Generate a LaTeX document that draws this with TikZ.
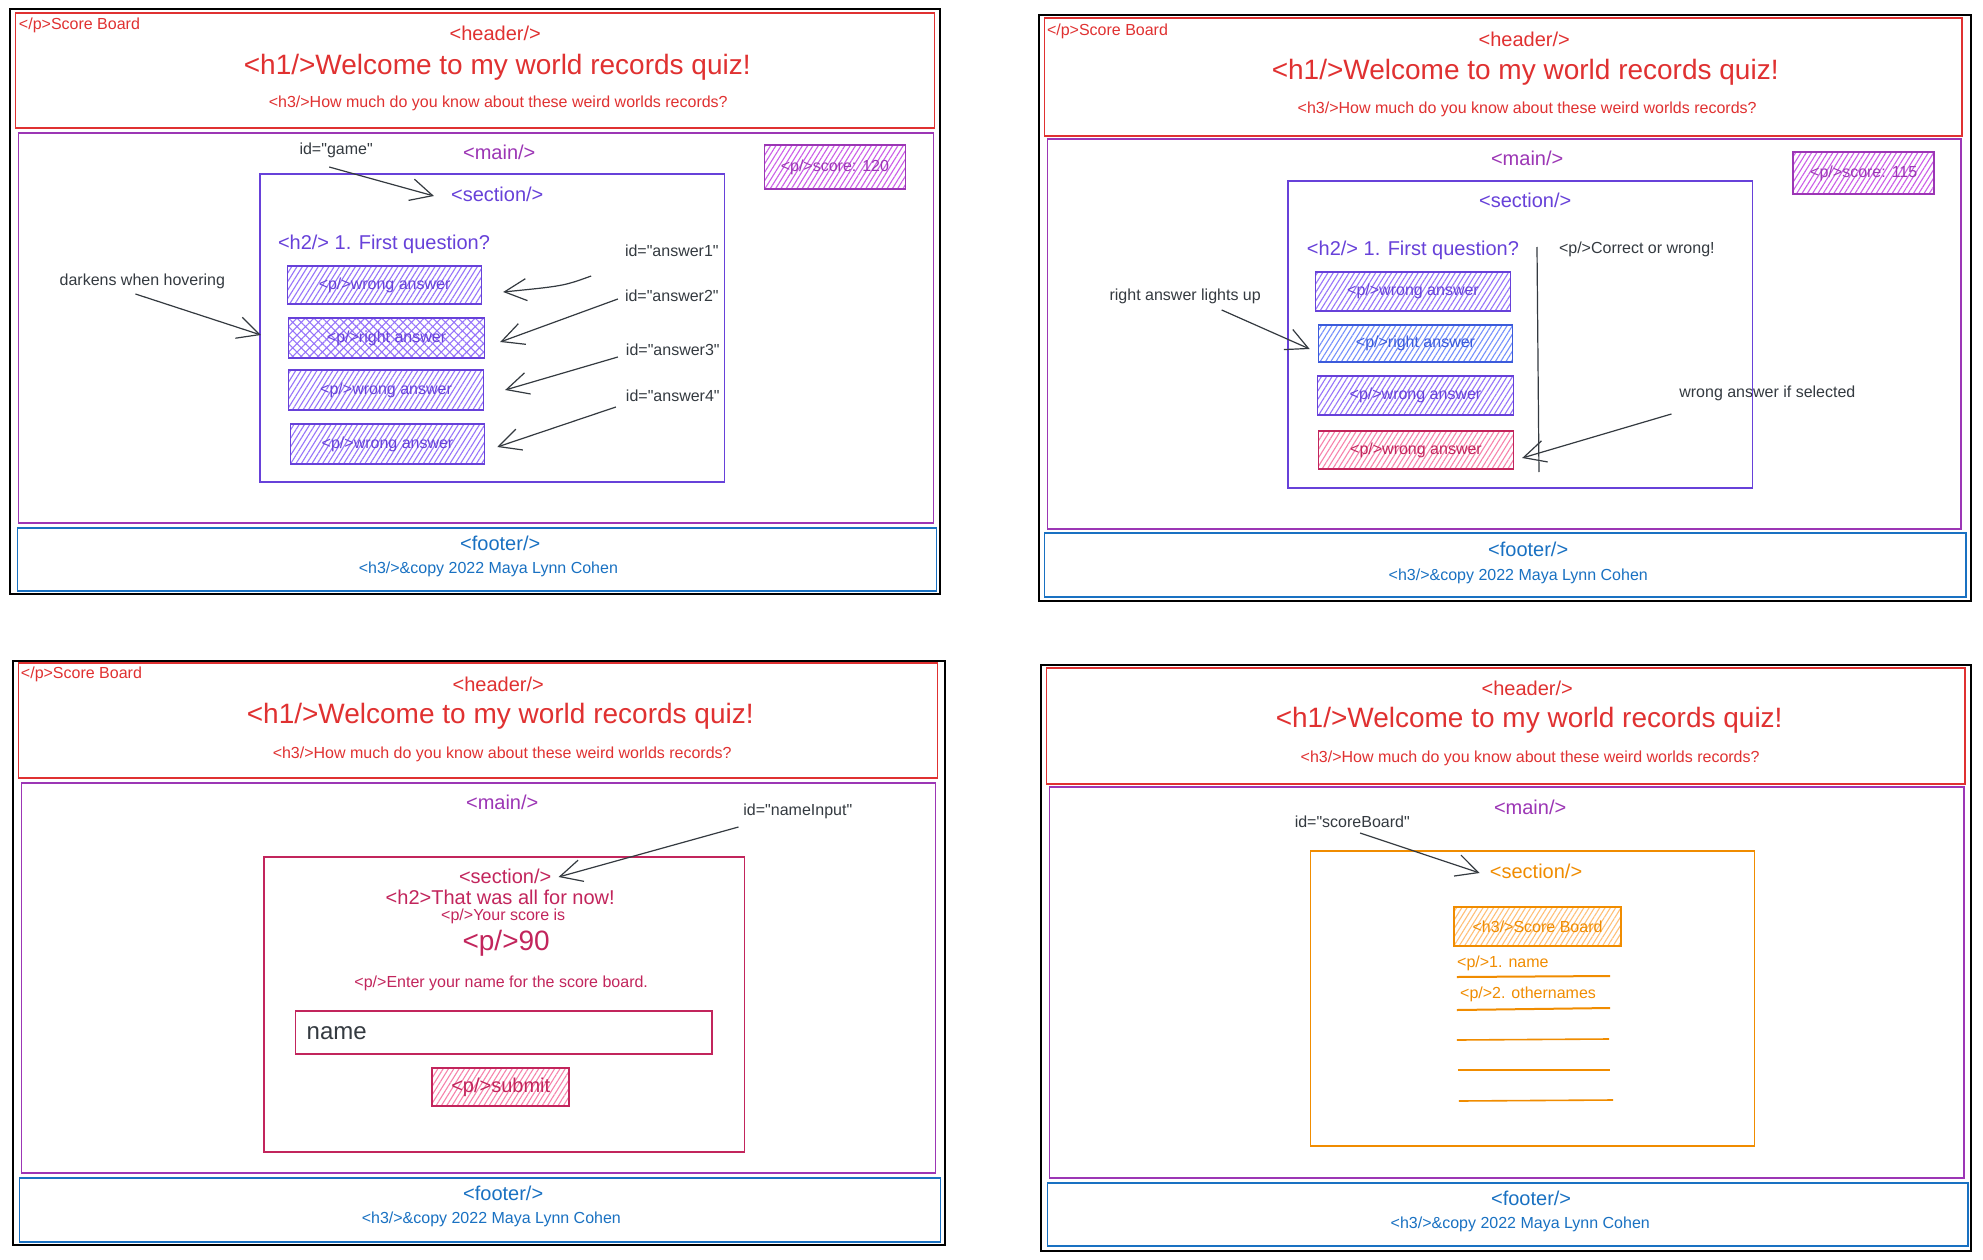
\documentclass[tikz,border=0pt]{standalone}
\usepackage{fontspec}
\setmainfont{Liberation Sans}[Ligatures=TeXOff]
\usetikzlibrary{arrows.meta,patterns.meta}
\definecolor{cred}{HTML}{E03131}
\definecolor{cgrape}{HTML}{9C36B5}
\definecolor{cgrapel}{HTML}{CC5DE8}
\definecolor{cviolet}{HTML}{6741D9}
\definecolor{cvioletl}{HTML}{9775FA}
\definecolor{cblue}{HTML}{1971C2}
\definecolor{cindigo}{HTML}{3B5BDB}
\definecolor{cindigol}{HTML}{748FFC}
\definecolor{cpink}{HTML}{C2255C}
\definecolor{cpinkl}{HTML}{F783AC}
\definecolor{corange}{HTML}{F08C00}
\definecolor{corangel}{HTML}{FFC078}
\definecolor{cgray}{HTML}{343A40}
\tikzset{
  pframe/.style={draw=black, line width=1.6pt},
  phead/.style={draw=cred, line width=1.3pt},
  pmain/.style={draw=cgrape, line width=1.3pt},
  pfoot/.style={draw=cblue, line width=1.3pt},
  f16/.style={inner sep=0pt, font=\fontsize{16pt}{19pt}\selectfont},
  f20/.style={inner sep=0pt, font=\fontsize{20pt}{24pt}\selectfont},
  f24/.style={inner sep=0pt, font=\fontsize{24pt}{28pt}\selectfont},
  f28/.style={inner sep=0pt, font=\fontsize{28pt}{33pt}\selectfont},
  hatchbox/.style n args={4}{draw=#1, line width=1.6pt, text=#1,
     pattern={Lines[angle=58,distance=4.5pt,line width=1.1pt]}, pattern color=#2,
     minimum width=#3, minimum height=#4, inner sep=0pt,
     font=\fontsize{16pt}{19pt}\selectfont},
  conn/.style={draw=cgray, line width=1.2pt,
     -{Straight Barb[length=22pt,width=22pt,line width=1.2pt]}},
}
\begin{document}
\begin{tikzpicture}[x=1pt,y=-1pt]
\useasboundingbox (0,0) rectangle (1983,1260);
\fill[white] (0,0) rectangle (1983,1260);

%================ PANEL 1 =================
\begin{scope}[xscale=0.9886]
\draw[pframe] (10,9) rectangle (951,594);
\draw[phead] (16,13) rectangle (945,128);
\draw[pmain] (19,133) rectangle (944,523);
\draw[pfoot] (18,528) rectangle (947,591);
\node[f16,text=cred,anchor=west] (p1sb) at (19,25) {</p>Score Board};
\node[f20,text=cred] (p1hd) at (501,33) {<header/>};
\node[f28,text=cred] (p1h1) at (503,67) {<h1/>Welcome to my world records quiz!};
\node[f16,text=cred] (p1h3) at (504,103) {<h3/>How much do you know about these weird worlds records?};
\node[f20,text=cgrape] (p1mn) at (505,152) {<main/>};
\node[f16,text=cgray] (p1game) at (340,150) {id="game"};
\node[hatchbox={cgrape}{cgrapel}{141pt}{44pt}] (p1score) at (844.5,167) {<p/>score: 120};
\draw[draw=cviolet, line width=1.3pt] (263,174) rectangle (733,482);
\node[f20,text=cviolet] (p1sec) at (503,194) {<section/>};
\node[f20,text=cviolet,anchor=west] (p1h2) at (281,244) {<h2/> 1. First question?};
\node[hatchbox={cviolet}{cvioletl}{194pt}{38pt}] (p1b1) at (389,285) {<p/>wrong answer};
\node[draw=cviolet, line width=1.6pt, minimum width=196pt, minimum height=40pt, inner sep=0pt,
      pattern={Hatch[angle=45,distance=6pt,line width=1.1pt]}, pattern color=cvioletl] (p1b2) at (391,338) {};
\node[f16,text=cviolet] (p1b2t) at (p1b2.center) {<p/>right answer};
\node[hatchbox={cviolet}{cvioletl}{195pt}{40pt}] (p1b3) at (390.5,390) {<p/>wrong answer};
\node[hatchbox={cviolet}{cvioletl}{194pt}{40pt}] (p1b4) at (392,444) {<p/>wrong answer};
\node[f16,text=cgray,anchor=west] (p1l1) at (632,251) {id="answer1"};
\node[f16,text=cgray,anchor=west] (p1l2) at (632,296) {id="answer2"};
\node[f16,text=cgray,anchor=west] (p1l3) at (633,350) {id="answer3"};
\node[f16,text=cgray,anchor=west] (p1l4) at (633,396) {id="answer4"};
\node[f16,text=cgray] (p1hov) at (144,281) {darkens when hovering};
\coordinate (p1gs) at (333,167); \coordinate (p1ge) at (439,196);
\coordinate (p1a1s) at (598,276); \coordinate (p1a1e) at (509,292);
\coordinate (p1a2s) at (625,299); \coordinate (p1a2e) at (506,342);
\coordinate (p1a3s) at (625,357); \coordinate (p1a3e) at (511,390);
\coordinate (p1a4s) at (623,407); \coordinate (p1a4e) at (503,447);
\coordinate (p1hs) at (137,294); \coordinate (p1he) at (264,335);
\draw[conn] (p1gs) -- (p1ge);
\draw[conn] (p1a1s) .. controls (570,286) .. (p1a1e);
\draw[conn] (p1a2s) -- (p1a2e);
\draw[conn] (p1a3s) -- (p1a3e);
\draw[conn] (p1a4s) -- (p1a4e);
\draw[conn] (p1hs) -- (p1he);
\node[f20,text=cblue] (p1ft) at (506,543) {<footer/>};
\node[f16,text=cblue] (p1cp) at (494,569) {<h3/>\&copy 2022 Maya Lynn Cohen};
\end{scope}

%================ PANEL 2 =================
\begin{scope}[xshift=11.95pt, xscale=0.9884]
\draw[pframe] (1039,15) rectangle (1982,601);
\draw[phead] (1045,18) rectangle (1973,136);
\draw[pmain] (1048,139) rectangle (1972,529);
\draw[pfoot] (1045,533) rectangle (1977,597);
\node[f16,text=cred,anchor=west] (p2sb) at (1047,31) {</p>Score Board};
\node[f20,text=cred] (p2hd) at (1530,39) {<header/>};
\node[f28,text=cred] (p2h1) at (1531,72) {<h1/>Welcome to my world records quiz!};
\node[f16,text=cred] (p2h3) at (1533,109) {<h3/>How much do you know about these weird worlds records?};
\node[f20,text=cgrape] (p2mn) at (1533,158) {<main/>};
\node[hatchbox={cgrape}{cgrapel}{141pt}{42pt}] (p2score) at (1873.5,173) {<p/>score: 115};
\draw[draw=cviolet, line width=1.3pt] (1291,181) rectangle (1761,488);
\node[f20,text=cviolet] (p2sec) at (1531,200) {<section/>};
\node[f20,text=cviolet,anchor=west] (p2h2) at (1310,250) {<h2/> 1. First question?};
\coordinate (p2vt) at (1543,247); \coordinate (p2vb) at (1545,472);
\draw[cgray, line width=1.2pt] (p2vt) -- (p2vb);
\node[f16,text=cgray,anchor=west] (p2cw) at (1565,249) {<p/>Correct or wrong!};
\node[hatchbox={cviolet}{cvioletl}{195pt}{39pt}] (p2b1) at (1417.5,291.5) {<p/>wrong answer};
\node[hatchbox={cindigo}{cindigol}{194pt}{37pt}] (p2b2) at (1420,343.5) {<p/>right answer};
\node[hatchbox={cviolet}{cvioletl}{196pt}{39pt}] (p2b3) at (1420,395.5) {<p/>wrong answer};
\node[hatchbox={cpink}{cpinkl}{195pt}{38pt}] (p2b4) at (1420.5,450) {<p/>wrong answer};
\node[f16,text=cgray] (p2rl) at (1187,296) {right answer lights up};
\node[f16,text=cgray] (p2wl) at (1776,393) {wrong answer if selected};
\coordinate (p2rs) at (1224,310); \coordinate (p2re) at (1313,349);
\coordinate (p2ws) at (1679,414); \coordinate (p2we) at (1528,458);
\draw[conn] (p2rs) -- (p2re);
\draw[conn] (p2ws) -- (p2we);
\node[f20,text=cblue] (p2ft) at (1534,549) {<footer/>};
\node[f16,text=cblue] (p2cp) at (1524,576) {<h3/>\&copy 2022 Maya Lynn Cohen};
\end{scope}

%================ PANEL 3 =================
\begin{scope}[xscale=0.9886]
\draw[pframe] (13,661) rectangle (956,1245);
\draw[phead] (19,663) rectangle (948,778);
\draw[pmain] (22,783) rectangle (946,1173);
\draw[pfoot] (20,1178) rectangle (951,1242);
\node[f16,text=cred,anchor=west] (p3sb) at (21,674) {</p>Score Board};
\node[f20,text=cred] (p3hd) at (504,684) {<header/>};
\node[f28,text=cred] (p3h1) at (506,716) {<h1/>Welcome to my world records quiz!};
\node[f16,text=cred] (p3h3) at (508,754) {<h3/>How much do you know about these weird worlds records?};
\node[f20,text=cgrape] (p3mn) at (508,802) {<main/>};
\node[f16,text=cgray] (p3id) at (807,811) {id="nameInput"};
\draw[draw=cpink, line width=1.3pt] (267,857) rectangle (753,1152);
\node[f20,text=cpink] (p3sec) at (511,876) {<section/>};
\coordinate (p3as) at (747,827); \coordinate (p3ae) at (565,877);
\draw[conn] (p3as) -- (p3ae);
\node[f20,text=cpink] (p3h2) at (506,897) {<h2>That was all for now!};
\node[f16,text=cpink] (p3ys) at (509,916) {<p/>Your score is};
\node[f28,text=cpink] (p3sc) at (512,943) {<p/>90};
\node[f16,text=cpink] (p3en) at (507,983) {<p/>Enter your name for the score board.};
\node[draw=cpink, line width=1.6pt, minimum width=416pt, minimum height=43pt, inner sep=0pt] (p3in) at (509.5,1032.5) {};
\node[f24,text=cgray,anchor=west] (p3nm) at (310,1033) {name};
\node[hatchbox={cpink}{cpinkl}{137pt}{38pt}, font=\fontsize{20pt}{24pt}\selectfont] (p3sub) at (506.5,1087) {<p/>submit};
\node[f20,text=cblue] (p3ft) at (509,1193) {<footer/>};
\node[f16,text=cblue] (p3cp) at (497,1219) {<h3/>\&copy 2022 Maya Lynn Cohen};
\end{scope}

%================ PANEL 4 =================
\begin{scope}[xshift=11.95pt, xscale=0.9884]
\draw[pframe] (1041,665) rectangle (1982,1251);
\draw[phead] (1047,668) rectangle (1976,784);
\draw[pmain] (1050,787) rectangle (1975,1178);
\draw[pfoot] (1048,1183) rectangle (1979,1246);
\node[f20,text=cred] (p4hd) at (1533,688) {<header/>};
\node[f28,text=cred] (p4h1) at (1535,720) {<h1/>Welcome to my world records quiz!};
\node[f16,text=cred] (p4h3) at (1536,758) {<h3/>How much do you know about these weird worlds records?};
\node[f20,text=cgrape] (p4mn) at (1536,807) {<main/>};
\node[f16,text=cgray] (p4id) at (1356,822) {id="scoreBoard"};
\draw[draw=corange, line width=1.4pt] (1314,851) rectangle (1763,1146);
\node[f20,text=corange] (p4sec) at (1542,871) {<section/>};
\coordinate (p4as) at (1364,833); \coordinate (p4ae) at (1485,873);
\draw[conn] (p4as) -- (p4ae);
\node[hatchbox={corange}{corangel}{167pt}{39pt}] (p4sb) at (1543.5,926.5) {<h3/>Score Board};
\node[f16,text=corange,anchor=west] (p4n1) at (1462,963) {<p/>1. name};
\node[f16,text=corange,anchor=west] (p4n2) at (1465,994) {<p/>2. othernames};
\coordinate (p4l1a) at (1462,977); \coordinate (p4l1b) at (1617,976);
\coordinate (p4l2a) at (1462,1010); \coordinate (p4l2b) at (1617,1008);
\coordinate (p4l3a) at (1462,1040); \coordinate (p4l3b) at (1616,1039);
\coordinate (p4l4a) at (1463,1070); \coordinate (p4l4b) at (1617,1070);
\coordinate (p4l5a) at (1464,1101); \coordinate (p4l5b) at (1620,1100);
\draw[corange, line width=2pt] (p4l1a) -- (p4l1b);
\draw[corange, line width=2pt] (p4l2a) -- (p4l2b);
\draw[corange, line width=1.6pt] (p4l3a) -- (p4l3b);
\draw[corange, line width=1.6pt] (p4l4a) -- (p4l4b);
\draw[corange, line width=1.6pt] (p4l5a) -- (p4l5b);
\node[f20,text=cblue] (p4ft) at (1537,1198) {<footer/>};
\node[f16,text=cblue] (p4cp) at (1526,1224) {<h3/>\&copy 2022 Maya Lynn Cohen};
\end{scope}
\end{tikzpicture}
\end{document}
